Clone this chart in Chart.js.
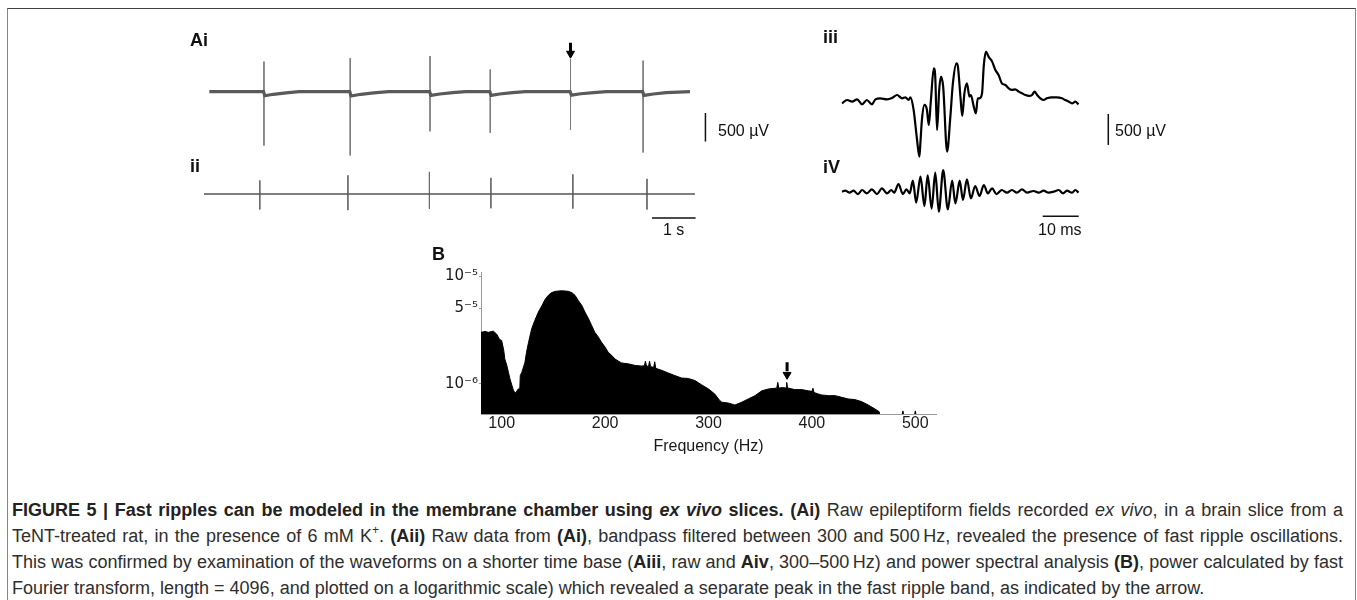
<!DOCTYPE html>
<html>
<head>
<meta charset="utf-8">
<script src="https://cdn.jsdelivr.net/npm/chart.js@4.4.1/dist/chart.umd.min.js"></script>
<style>
html,body{margin:0;padding:0;background:#fff;}
body{width:1357px;height:600px;position:relative;overflow:hidden;font-family:"Liberation Sans",Arial,Helvetica,sans-serif;}
#frame{position:absolute;left:7px;top:8px;width:1349px;height:640px;border:1px solid #858585;border-top-color:#444;box-sizing:border-box;}
canvas{position:absolute;}
.lbl{position:absolute;line-height:1;white-space:nowrap;color:#111;}
.b{font-weight:bold;font-size:18px;}
.s{font-size:16px;}
#caption{position:absolute;left:12px;top:497px;width:1331px;font-size:18px;line-height:26px;color:#2e2e2e;white-space:nowrap;}
#caption div.j{text-align:justify;text-align-last:justify;}
#caption b{color:#222;}
sup{font-size:12px;line-height:0;position:relative;top:-1px;vertical-align:super;}
</style>
</head>
<body>
<div id="frame"></div>

<canvas id="cAi" width="540" height="140" style="left:190px;top:30px;"></canvas>
<canvas id="cAii" width="540" height="70" style="left:190px;top:160px;"></canvas>
<canvas id="cAiii" width="300" height="140" style="left:830px;top:30px;"></canvas>
<canvas id="cAiv" width="300" height="70" style="left:830px;top:160px;"></canvas>
<canvas id="cB" width="580" height="220" style="left:380px;top:240px;"></canvas>

<div class="lbl b" style="left:190px;top:31px;">Ai</div>
<div class="lbl b" style="left:190px;top:157px;">ii</div>
<div class="lbl b" style="left:823px;top:28px;">iii</div>
<div class="lbl b" style="left:823px;top:158px;">iV</div>
<div class="lbl b" style="left:432px;top:245px;">B</div>
<div class="lbl s" style="left:718px;top:123px;">500 µV</div>
<div class="lbl s" style="left:1115px;top:123px;">500 µV</div>
<div class="lbl s" style="left:663px;top:222px;">1 s</div>
<div class="lbl s" style="left:1038px;top:222px;">10 ms</div>

<div id="caption">
<div class="j"><b>FIGURE 5 | Fast ripples can be modeled in the membrane chamber using <i>ex vivo</i> slices. (Ai)</b> Raw epileptiform fields recorded <i>ex vivo</i>, in a brain slice from a</div>
<div class="j">TeNT-treated rat, in the presence of 6 mM K<sup>+</sup>. <b>(Aii)</b> Raw data from <b>(Ai)</b>, bandpass filtered between 300 and 500&#8201;Hz, revealed the presence of fast ripple oscillations.</div>
<div class="j">This was confirmed by examination of the waveforms on a shorter time base (<b>Aiii</b>, raw and <b>Aiv</b>, 300–500&#8201;Hz) and power spectral analysis <b>(B)</b>, power calculated by fast</div>
<div>Fourier transform, length = 4096, and plotted on a logarithmic scale) which revealed a separate peak in the fast ripple band, as indicated by the arrow.</div>
</div>

<script>
// ---------------- DATA ----------------
// Ai / Aii : time in seconds, amplitude in µV
const spikeTimes      = [1.28, 3.30, 5.17, 6.58, 8.46, 10.16];
const aiSpikeTops     = [527, 587, 626, 390, 571, 544];
const aiSpikeBottoms  = [-944, -1118, -694, -721, -666, -1065];
const iiSpikeTops     = [218, 300, 357, 260, 316, 244];
const iiSpikeBottoms  = [-250, -260, -240, -230, -235, -250];

const aiTimes  = [0, 1.27, 1.30, 1.50, 1.80, 2.10, 3.29, 3.32, 3.55, 3.85, 4.20, 5.16, 5.19, 5.40, 5.70, 6.00, 6.57, 6.60, 6.80, 7.10, 7.40, 8.45, 8.48, 8.70, 9.00, 9.30, 10.15, 10.18, 10.40, 10.70, 11.26];
const aiValues = [0, 0, -70, -45, -20, 0, 0, -75, -45, -20, 0, 0, -65, -40, -15, 0, 0, -65, -40, -15, 0, 0, -60, -35, -15, 0, 0, -65, -40, -15, 0];
const iiTimes  = [0, 11.26];
const iiValues = [0, 0];

// Aiii / Aiv : time in ms, amplitude in µV
const iiiTime   = [0, 1.4, 2.8, 4.2, 5.6, 6.9, 8.3, 9.3, 10.6, 12.5, 13.9, 15.3, 16.7, 17.6, 18.5, 19.0, 19.9, 20.8, 21.5, 21.8, 22.2, 22.9, 23.6, 24.1, 24.7, 25.5, 25.9, 26.4, 27.0, 27.5, 28.1, 29.2, 30.1, 30.8, 31.8, 32.2, 32.9, 33.4, 34.0, 34.7, 35.4, 35.8, 36.6, 37.2, 37.7, 38.2, 38.9, 39.4, 40.0, 40.7, 41.7, 42.6, 43.5, 44.4, 45.4, 46.3, 47.2, 48.1, 49.1, 50.0, 50.9, 51.9, 52.8, 53.5, 54.2, 55.1, 56.0, 56.9, 58.3, 59.7, 61.1, 62.0, 63.0, 63.9, 64.8, 65.7];
const iiiValues = [-22, 32, 5, 43, -38, 32, -38, 43, 59, 43, 65, 113, 59, 75, 32, 75, -129, -586, -882, -640, -290, -48, -129, -371, 32, 543, 409, -452, 194, 409, 247, -801, -237, 301, 624, 570, 86, -226, 140, 301, 86, 113, -75, -183, 59, 59, 140, 597, 812, 731, 651, 516, 435, 301, 274, 220, 194, 204, 167, 140, 113, 97, 113, 167, 113, 59, 32, 59, 75, 75, 59, 32, 5, -22, 5, -38];
const ivTime    = [0, 0.9, 2.1, 3.2, 4.4, 5.6, 6.9, 8.3, 9.7, 11.1, 12.5, 13.7, 14.5, 15.7, 16.9, 17.9, 18.8, 19.7, 20.6, 21.8, 22.9, 23.8, 24.9, 25.9, 26.9, 28.1, 29.4, 30.6, 31.5, 32.7, 33.6, 34.7, 35.8, 37.0, 38.2, 39.4, 40.5, 41.7, 42.9, 44.4, 45.8, 47.2, 48.6, 50.0, 51.4, 53.2, 54.6, 56.0, 57.4, 58.8, 60.2, 61.4, 62.5, 63.9, 64.8, 65.7];
const ivValues  = [0, 16, -16, 16, -38, 27, -27, 38, -38, 54, -27, 27, -16, 124, -38, 38, -27, 177, -177, 242, -231, 263, -274, 306, -323, 349, -285, 177, -188, 177, -134, 199, -108, 91, -70, 108, -27, 54, -38, 27, -16, 27, -16, 38, -16, 11, -16, 16, -16, 0, 27, -27, 16, -16, 27, -16];

// B : power spectrum, frequency (Hz) and power
const specFreq  = [80, 84, 87, 92, 95, 98, 100, 102, 103, 105, 106.5, 108, 110, 111.5, 113.5, 116, 117.5, 118, 119.5, 122.5, 124, 126, 129, 132, 135.5, 139, 142, 145, 148, 152, 158, 164.5, 168, 171, 174, 177.5, 180.5, 184, 187, 190, 193.5, 196.5, 200, 203, 206.5, 209.5, 213, 216, 222.5, 229, 235.5, 238, 239, 240, 242, 243, 244, 247, 248, 249, 255, 261, 267.5, 274, 280.5, 287, 293.5, 300, 306, 311, 313, 319, 325.5, 332, 338.5, 345, 351.5, 358, 364, 366, 367, 368, 371, 375, 375.6, 376.5, 383.5, 390, 396.5, 400, 401, 402, 406, 409.5, 416, 422.5, 429, 435, 441.5, 448, 454.5, 461, 465, 466, 487, 488, 489, 499, 500, 501, 520];
const specPower = [3.0e-6, 3.06e-6, 3.0e-6, 3.08e-6, 2.9e-6, 2.58e-6, 2.52e-6, 2.04e-6, 1.7e-6, 1.48e-6, 1.28e-6, 1.11e-6, 9.6e-7, 8.6e-7, 8.2e-7, 8.95e-7, 9.0e-7, 1.19e-6, 1.28e-6, 1.58e-6, 1.96e-6, 2.43e-6, 3.24e-6, 3.87e-6, 4.63e-6, 5.33e-6, 6.07e-6, 6.61e-6, 7.0e-6, 7.21e-6, 7.3e-6, 7.21e-6, 7.0e-6, 6.61e-6, 5.94e-6, 5.33e-6, 4.63e-6, 4.01e-6, 3.48e-6, 3.01e-6, 2.71e-6, 2.43e-6, 2.19e-6, 1.96e-6, 1.83e-6, 1.70e-6, 1.62e-6, 1.56e-6, 1.53e-6, 1.48e-6, 1.46e-6, 1.47e-6, 1.62e-6, 1.46e-6, 1.45e-6, 1.62e-6, 1.44e-6, 1.42e-6, 1.6e-6, 1.39e-6, 1.33e-6, 1.26e-6, 1.19e-6, 1.13e-6, 1.12e-6, 1.07e-6, 9.75e-7, 8.95e-7, 8.04e-7, 6.97e-7, 6.73e-7, 6.63e-7, 6.35e-7, 6.73e-7, 7.23e-7, 7.76e-7, 8.6e-7, 8.95e-7, 9.08e-7, 9.1e-7, 1.03e-6, 9.1e-7, 9.21e-7, 9.14e-7, 1.03e-6, 9.14e-7, 8.83e-7, 8.83e-7, 8.6e-7, 8.5e-7, 9.08e-7, 8.3e-7, 8.04e-7, 7.87e-7, 7.76e-7, 7.76e-7, 7.48e-7, 7.23e-7, 7.13e-7, 6.83e-7, 6.35e-7, 5.83e-7, 5.51e-7, 5.0e-7, 5.0e-7, 5.6e-7, 5.0e-7, 5.0e-7, 5.6e-7, 5.0e-7, 5.0e-7];

const xTickValues = [100, 200, 300, 400, 500];
const xTickLabels = ['100', '200', '300', '400', '500'];
const yTickValues = [1e-5, 5e-6, 1e-6];
const yTickLabels = ['10⁻⁵', '5⁻⁵', '10⁻⁶'];

// annotations (arrows and scale bars), in data units
const arrowAi   = {x: 8.46, shaftTop: 860, shaftBottom: 694, head: 669};
const arrowB    = {x: 376, shaftTop: 1.585e-6, shaftBottom: 1.306e-6, head: 1.213e-6};
const barAiV    = {x: 11.62, y0: -371, y1: -871};        // 500 µV
const barAiiH   = {x0: 10.275, x1: 11.275, y: -387};     // 1 s
const barAiiiV  = {x: 73.97, y0: -194, y1: -694};        // 500 µV
const barAivH   = {x0: 55.75, x1: 65.75, y: -398};       // 10 ms

// ---------------- DRAWING ----------------
const FONT = "'Liberation Sans', Arial, Helvetica, sans-serif";
Chart.defaults.font.family = FONT;
Chart.defaults.color = '#1a1a1a';

const zip = (xs, ys) => xs.map((x, i) => ({x: x, y: ys[i]}));
function spikeSegments(times, tops, bottoms) {
  const out = [];
  times.forEach((t, i) => { out.push({x: t, y: tops[i]}, {x: t, y: bottoms[i]}, {x: t, y: null}); });
  return out;
}
const line = (data, color, width, extra) => Object.assign({data: data, borderColor: color, borderWidth: width, pointRadius: 0, fill: false, spanGaps: false}, extra || {});
const vbar = b => line([{x: b.x, y: b.y0}, {x: b.x, y: b.y1}], '#111', 1.5);
const hbar = b => line([{x: b.x0, y: b.y}, {x: b.x1, y: b.y}], '#111', 1.5);
const arrowSets = a => [
  line([{x: a.x, y: a.shaftTop}, {x: a.x, y: a.shaftBottom}], '#000', 3),
  {data: [{x: a.x, y: a.head}], showLine: false, pointStyle: 'triangle', rotation: 180, pointRadius: 4.6, backgroundColor: '#000', borderColor: '#000', borderWidth: 1}
];

function traceChart(id, datasets, xmin, xmax, ymin, ymax) {
  return new Chart(document.getElementById(id), {
    type: 'line',
    data: {datasets: datasets},
    options: {
      responsive: false, animation: false, events: [],
      layout: {padding: 0},
      plugins: {legend: {display: false}, tooltip: {enabled: false}},
      scales: {
        x: {type: 'linear', min: xmin, max: xmax, display: false},
        y: {type: 'linear', min: ymin, max: ymax, display: false}
      }
    }
  });
}

traceChart('cAi', [
  line(zip(aiTimes, aiValues), '#5a5a5a', 3.2),
  line(spikeSegments(spikeTimes, aiSpikeTops, aiSpikeBottoms), '#7c7c7c', 1),
  vbar(barAiV),
  ...arrowSets(arrowAi)
], -0.3211, 12.0642, -1274.3, 983.9);

traceChart('cAii', [
  line(zip(iiTimes, iiValues), '#555', 1.6),
  line(spikeSegments(spikeTimes, iiSpikeTops, iiSpikeBottoms), '#6a6a6a', 1),
  hbar(barAiiH)
], -0.3211, 12.0642, -580.7, 548.4);

traceChart('cAiii', [
  line(zip(iiiTime, iiiValues), '#000', 2.2, {cubicInterpolationMode: 'monotone'}),
  vbar(barAiiiV)
], -3.333, 80, -1097, 1161);

traceChart('cAiv', [
  line(zip(ivTime, ivValues), '#000', 2.2, {cubicInterpolationMode: 'monotone'}),
  hbar(barAivH)
], -3.333, 80, -618, 511);

new Chart(document.getElementById('cB'), {
  type: 'line',
  data: {datasets: [
    {data: zip(specFreq, specPower), borderColor: '#000', backgroundColor: '#000', borderWidth: 1, pointRadius: 0, fill: 'start'},
    ...arrowSets(arrowB)
  ]},
  options: {
    responsive: false, animation: false, events: [],
    layout: {padding: {top: 32, right: 24, left: 0, bottom: 0}},
    plugins: {legend: {display: false}, tooltip: {enabled: false}},
    scales: {
      x: {
        type: 'linear', min: 80, max: 520,
        afterBuildTicks: s => { s.ticks = xTickValues.map(v => ({value: v})); },
        afterFit: s => { s.height = 46; },
        grid: {drawOnChartArea: false, drawTicks: false},
        border: {display: true, color: '#9a9a9a', width: 1},
        ticks: {font: {size: 16}, color: '#1a1a1a', padding: 0, maxRotation: 0, autoSkip: false,
                callback: (v, i) => xTickLabels[i]},
        title: {display: true, text: 'Frequency (Hz)', font: {size: 16}, color: '#1a1a1a', padding: {top: 0, bottom: 4}}
      },
      y: {
        type: 'logarithmic', min: 5.24e-7, max: 1.09e-5,
        afterBuildTicks: s => { s.ticks = yTickValues.map(v => ({value: v})); },
        afterFit: s => { s.width = 101; },
        grid: {drawOnChartArea: false, drawTicks: true, tickLength: 2, color: '#9a9a9a'},
        border: {display: true, color: '#9a9a9a', width: 1},
        ticks: {font: {family: "'DejaVu Sans', 'Liberation Sans', sans-serif", size: 15}, color: '#1a1a1a', padding: 1, autoSkip: false,
                callback: (v, i) => yTickLabels[i]}
      }
    }
  }
});
</script>
</body>
</html>
